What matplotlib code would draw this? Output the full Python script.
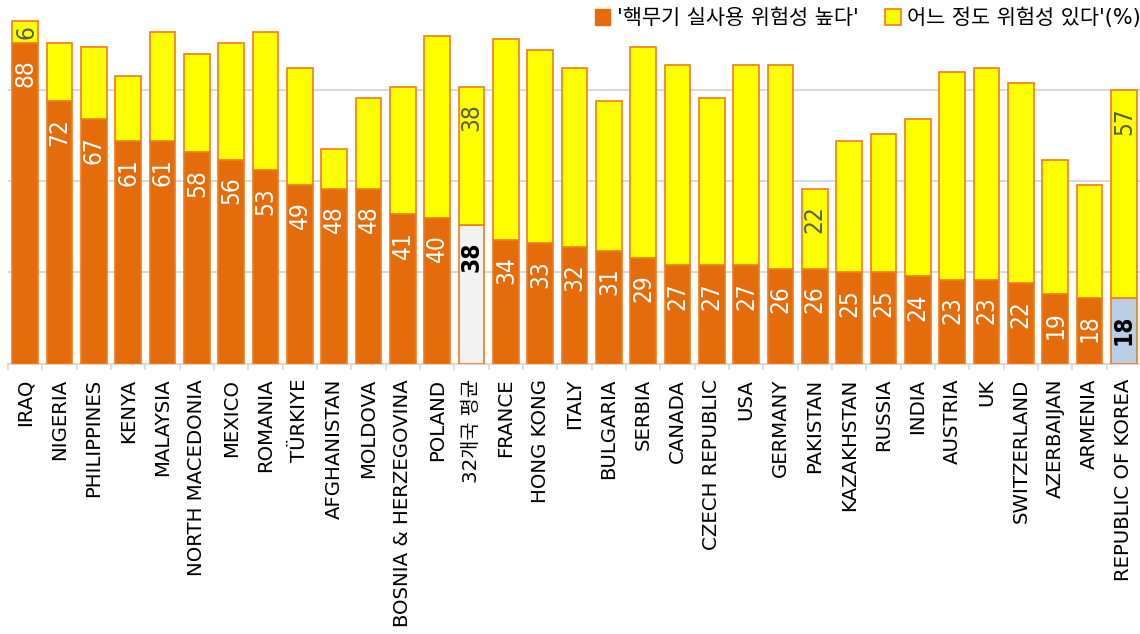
import numpy as np
import matplotlib
matplotlib.use('Agg')
import matplotlib.pyplot as plt
from matplotlib.patches import Patch

plt.rcParams['font.family'] = ['DejaVu Sans', 'Noto Sans CJK KR']

categories = ['IRAQ', 'NIGERIA', 'PHILIPPINES', 'KENYA', 'MALAYSIA', 'NORTH MACEDONIA',
              'MEXICO', 'ROMANIA', 'TÜRKIYE', 'AFGHANISTAN', 'MOLDOVA',
              'BOSNIA & HERZEGOVINA', 'POLAND', '32개국 평균', 'FRANCE', 'HONG KONG',
              'ITALY', 'BULGARIA', 'SERBIA', 'CANADA', 'CZECH REPUBLIC', 'USA',
              'GERMANY', 'PAKISTAN', 'KAZAKHSTAN', 'RUSSIA', 'INDIA', 'AUSTRIA', 'UK',
              'SWITZERLAND', 'AZERBAIJAN', 'ARMENIA', 'REPUBLIC OF KOREA']
high_risk = [88, 72, 67, 61, 61, 58, 56, 53, 49, 48, 48, 41, 40, 38, 34, 33, 32,
             31, 29, 27, 27, 27, 26, 26, 25, 25, 24, 23, 23, 22, 19, 18, 18]
some_risk = [6, 16, 20, 18, 30, 27, 32, 38, 32, 11, 25, 35, 50, 38, 55, 53, 49,
             41, 58, 55, 46, 55, 56, 22, 36, 38, 43, 57, 58, 55, 37, 31, 57]
labeled_top = ['IRAQ', '32개국 평균', 'PAKISTAN', 'REPUBLIC OF KOREA']
legend_labels = ["'핵무기 실사용 위험성 높다'", "어느 정도 위험성 있다'(%)"]

ORANGE = '#E46C0A'
YELLOW = '#FFFF00'
EDGE = '#F07C1E'
GRID = '#D9D9D9'
AVG_COLOR = '#F2F2F2'
KOREA_COLOR = '#B9CDE5'

W, H = 1140, 634
fig = plt.figure(figsize=(W / 100, H / 100), dpi=100)
ax = fig.add_axes([8 / W, 1 - 363.5 / H, (1141 - 8) / W, 363.5 / H])

x = np.arange(len(categories))
bottom_colors = []
for c in categories:
    if c == '32개국 평균':
        bottom_colors.append(AVG_COLOR)
    elif c == 'REPUBLIC OF KOREA':
        bottom_colors.append(KOREA_COLOR)
    else:
        bottom_colors.append(ORANGE)

bw = 0.757
ax.bar(x, high_risk, width=bw, color=bottom_colors, edgecolor=EDGE, linewidth=1.2, zorder=3)
ax.bar(x, some_risk, bottom=high_risk, width=bw, color=YELLOW, edgecolor=EDGE,
       linewidth=1.2, zorder=3)

ax.set_xlim(-0.5, len(categories) - 0.5)
ax.set_ylim(0, 99.8)
ax.set_yticks([25, 50, 75])
ax.yaxis.grid(True, color=GRID, linewidth=1.5)
ax.set_axisbelow(True)
ax.tick_params(axis='y', left=False, labelleft=False)
for s in ['left', 'right', 'top']:
    ax.spines[s].set_visible(False)
ax.spines['bottom'].set_color(GRID)
ax.spines['bottom'].set_linewidth(1.5)

ax.set_xticks(x)
ax.set_xticklabels(categories, rotation=90, fontsize=14.2, color='#000000')
ax.tick_params(axis='x', which='major', length=0, pad=11)
ax.set_xticks(np.arange(len(categories) + 1) - 0.5, minor=True)
ax.tick_params(axis='x', which='minor', length=4.5, width=1.2, color=GRID)

VS = 17.5
for i, c in enumerate(categories):
    special = c in ('32개국 평균', 'REPUBLIC OF KOREA')
    ax.annotate(str(high_risk[i]), xy=(x[i], high_risk[i]), xytext=(0, -12),
                textcoords='offset points', rotation=90, ha='center', va='top',
                color='black' if special else 'white', fontsize=VS,
                fontstretch='condensed',
                fontweight='bold' if special else 'normal', zorder=5)
    if c in labeled_top:
        if some_risk[i] < 12:
            ax.text(x[i] + 0.05, high_risk[i] + some_risk[i] / 2, str(some_risk[i]),
                    rotation=90, ha='center', va='center', color='#595959',
                    fontsize=VS, fontstretch='condensed', zorder=5)
        else:
            ax.annotate(str(some_risk[i]), xy=(x[i], high_risk[i] + some_risk[i]),
                        xytext=(0, -12), textcoords='offset points', rotation=90,
                        ha='center', va='top', color='#595959', fontsize=VS,
                        fontstretch='condensed', zorder=5)

handles = [Patch(facecolor=ORANGE, edgecolor=ORANGE),
           Patch(facecolor=YELLOW, edgecolor=EDGE, linewidth=1.2)]
fig.legend(handles, legend_labels, loc='upper right', bbox_to_anchor=(1.01, 1.004),
           ncol=2, frameon=False, fontsize=15, handlelength=0.75, handleheight=0.75,
           handletextpad=0.3, columnspacing=1.3, borderaxespad=0.1)

fig.savefig('out.png', dpi=100)
